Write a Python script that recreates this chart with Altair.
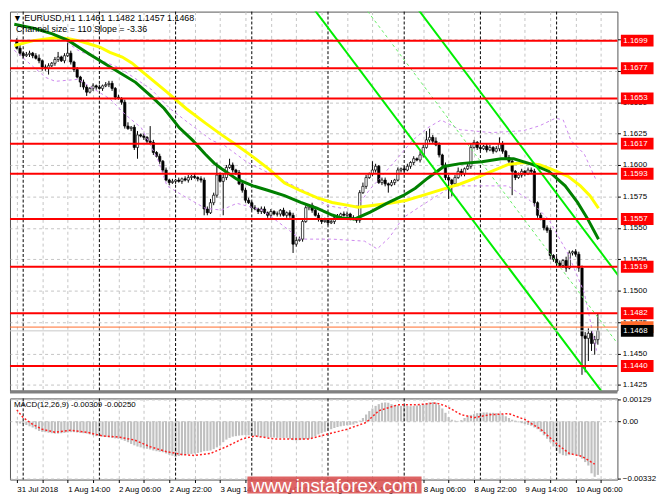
import altair as alt
import pandas as pd

FONT = "Liberation Sans"
BASE = 1.1400
PIP = 0.0001

# ---------------- candles (pips above 1.1400) ----------------
first_open = 299
closes = [
    293, 289, 287, 288, 289, 287, 285, 283, 278, 277,
    279, 281, 284, 286, 283, 287, 289, 282, 276, 270,
    266, 262, 258, 261, 263, 262, 261, 263, 264, 265,
    261, 254, 253, 250, 231, 229, 230, 214, 224, 223,
    222, 219, 218, 210, 207, 203, 196, 188, 186, 187,
    188, 187, 189, 188, 190, 191, 190, 189, 188, 165,
    162, 170, 176, 192, 187, 190, 198, 200, 196, 194,
    185, 180, 172, 170, 166, 165, 163, 165, 162, 160,
    163, 161, 161, 164, 160, 162, 160, 137, 140, 141,
    155, 166, 168, 164, 160, 157, 155, 156, 154, 155,
    158, 159, 161, 160, 161, 158, 157, 156, 178, 183,
    190, 193, 196, 199, 186, 188, 185, 184, 186, 188,
    196, 197, 196, 199, 202, 205, 204, 208, 214, 220,
    222, 219, 216, 208, 200, 190, 188, 185, 190, 195,
    193, 197, 199, 214, 218, 214, 213, 215, 212, 214,
    211, 213, 217, 211, 206, 203, 195, 190, 192, 195,
    193, 196, 195, 170, 160, 157, 150, 148, 128, 125,
    122, 120, 124, 118, 130, 131, 129, 118, 64, 62,
    66, 58, 61, 68]
wick_up = [
    2, 3, 1, 2, 2, 1, 2, 3, 1, 2,
    2, 1, 2, 4, 1, 2, 11, 2, 1, 2,
    1, 2, 2, 1, 2, 1, 2, 1, 2, 2,
    2, 1, 2, 1, 2, 3, 1, 2, 3, 1,
    2, 1, 12, 2, 1, 2, 1, 2, 1, 2,
    1, 2, 1, 2, 2, 1, 2, 1, 2, 2,
    2, 3, 2, 10, 2, 3, 2, 5, 2, 1,
    2, 1, 2, 2, 1, 2, 1, 2, 2, 1,
    2, 1, 2, 1, 2, 1, 2, 2, 3, 2,
    2, 2, 1, 2, 1, 2, 1, 2, 1, 2,
    1, 2, 1, 2, 2, 1, 2, 1, 2, 3,
    2, 1, 7, 2, 1, 2, 2, 1, 2, 1,
    2, 1, 2, 2, 1, 2, 1, 3, 2, 7,
    7, 2, 3, 2, 1, 2, 2, 1, 2, 3,
    2, 1, 2, 3, 2, 1, 2, 1, 2, 2,
    1, 2, 5, 2, 1, 2, 2, 1, 2, 2,
    1, 2, 2, 2, 1, 2, 1, 2, 2, 1,
    2, 2, 1, 3, 2, 1, 2, 2, 2, 3,
    4, 2, 3, 14]
wick_dn = [
    1, 2, 2, 1, 2, 2, 1, 2, 3, 2,
    5, 1, 2, 2, 1, 2, 1, 2, 2, 1,
    4, 2, 3, 1, 2, 2, 1, 2, 1, 2,
    2, 2, 1, 2, 2, 1, 2, 2, 9, 1,
    2, 2, 1, 2, 1, 2, 2, 1, 2, 1,
    2, 1, 2, 1, 2, 2, 1, 2, 2, 5,
    2, 1, 2, 2, 1, 27, 2, 1, 2, 2,
    1, 2, 2, 1, 2, 1, 2, 2, 1, 2,
    2, 1, 2, 2, 1, 2, 2, 7, 2, 1,
    2, 1, 2, 2, 1, 2, 2, 1, 2, 1,
    2, 1, 2, 1, 2, 2, 1, 2, 2, 1,
    2, 1, 2, 2, 1, 2, 2, 6, 1, 2,
    1, 2, 2, 1, 2, 2, 1, 2, 2, 1,
    2, 2, 1, 2, 2, 2, 15, 10, 2, 1,
    2, 2, 1, 2, 1, 2, 2, 1, 2, 1,
    2, 1, 2, 2, 1, 2, 19, 2, 1, 2,
    2, 1, 2, 3, 2, 1, 2, 2, 3, 2,
    2, 1, 2, 3, 1, 2, 2, 3, 31, 27,
    18, 6, 9, 4]

# ---------------- indicators ----------------
green_i = [-0.8, 5.2, 11.2, 16.3, 22.4, 29.3, 32.3, 37.4, 42.2, 46.4, 51.2, 55.4, 59.3, 62.3, 64.4,
           69.3, 74.4, 79.5, 84.3, 89.4, 94.5, 99.3, 102.3, 106.5, 111.3, 116.5, 121.6, 125.5,
           129.4, 134.5, 139.6, 146.5, 152.5, 156.5, 162.5, 167.6, 172.7, 176.6, 179.6, 183.2]
green_p = [312.1, 309.0, 304.4, 299.0, 289.0, 278.2, 273.6, 265.8, 255.0, 245.0, 229.6, 219.6, 208.8, 201.1, 197.2,
           188.7, 183.4, 179.5, 175.6, 170.2, 165.6, 160.2, 157.9, 157.1, 162.5, 169.5, 175.6, 181.5,
           189.5, 198.8, 201.1, 202.6, 205.0, 205.0, 200.3, 194.9, 183.4, 170.2, 157.9, 140.9]
yellow_i = [-0.8, 5.2, 12.1, 16.3, 19.3, 22.4, 26.3, 29.3, 33.2, 36.2, 41.3, 47.3, 53.3, 59.3, 64.4,
            69.3, 74.4, 79.5, 84.3, 89.4, 94.5, 99.3, 104.4, 107.4, 112.6, 117.4, 122.5, 127.6,
            134.5, 139.6, 144.4, 149.5, 154.6, 159.5, 164.6, 168.5, 173.6, 177.5, 180.5, 183.2]
yellow_p = [295.1, 299.0, 301.3, 300.5, 299.0, 296.7, 293.6, 289.7, 285.9, 281.3, 270.5, 258.1, 245.0, 233.5, 224.2,
            215.7, 206.5, 196.5, 185.7, 179.5, 174.1, 170.2, 167.9, 166.4, 167.9, 169.5, 171.8, 175.6,
            181.0, 184.9, 189.5, 194.9, 200.3, 201.9, 200.3, 196.5, 191.0, 183.4, 175.6, 165.6]
env_up_i = [0.1, 5.2, 12.1, 19.3, 28.4, 32.3, 42.2, 48.2, 53.3, 61.4, 65.3, 72.3, 79.5, 85.5, 92.4, 97.5,
            102.3, 107.4, 111.3, 114.4, 119.5, 124.6, 129.4, 133.6, 139.6, 149.5, 159.5, 164.6, 169.7,
            172.1, 174.5, 178.7, 182.6]
env_up_p = [310.6, 308.3, 304.4, 291.3, 281.3, 277.4, 260.5, 245.0, 235.0, 219.6, 215.7, 202.6, 193.4, 185.7, 177.2, 167.9,
            165.6, 167.9, 181.0, 189.5, 204.2, 219.6, 229.6, 235.8, 228.1, 225.8, 227.3, 231.2, 237.3,
            235.8, 219.6, 208.8, 187.2]
env_dn_i = [-0.8, 5.2, 9.1, 12.1, 19.3, 29.3, 34.4, 39.2, 44.3, 47.3, 52.4, 59.3, 64.4, 69.3, 77.4, 89.4,
            99.3, 109.5, 113.5, 117.4, 121.6, 127.6, 132.4, 137.5, 154.6, 161.6, 167.6, 173.6, 178.7, 182.6]
env_dn_p = [291.3, 278.2, 269.7, 266.6, 268.2, 252.7, 239.6, 229.6, 205.0, 183.4, 175.6, 165.6, 164.1, 169.5, 164.1, 141.0,
            141.0, 139.4, 133.2, 142.5, 157.9, 167.9, 175.6, 183.4, 183.4, 171.8, 156.4, 129.4, 98.5, 52.3]

# regression channel (Channel size = 110, Slope = -3.36)
chan_i = [88, 190]
chan_low = [1.17429, 1.14002]
chan_mid = [1.17979, 1.14552]
chan_high = [1.18529, 1.15102]

levels = [1.1699, 1.1677, 1.1653, 1.1617, 1.1593, 1.1557, 1.1519, 1.1482, 1.1440]
price_ticks = [1.1425, 1.1450, 1.1475, 1.1500, 1.1525, 1.1550, 1.1575, 1.1600,
               1.1625, 1.1650, 1.1675, 1.1700]
bid_price = 1.1468
ask_line = 1.1471

tick_idx = [0, 16, 32, 48, 64, 80, 96, 112, 128, 144, 160, 176]
tick_lbl = ["31 Jul 2018", "1 Aug 14:00", "2 Aug 06:00", "2 Aug 22:00", "3 Aug 14:00",
            "6 Aug 06:00", "6 Aug 22:00", "7 Aug 14:00", "8 Aug 06:00", "8 Aug 22:00",
            "9 Aug 14:00", "10 Aug 06:00"]
grid_idx = [0, 8, 16, 24, 32, 40, 48, 56, 64, 72, 80, 88, 96, 104, 112, 120, 128, 136,
            144, 152, 160, 168, 176, 184]
day_sep = [2, 26, 50, 74, 98, 122, 146, 170]

# MACD histogram (x 1e-5)
macd_hist = [
    -10, -12, -15, -20, -28, -35, -45, -55, -60, -62,
    -65, -68, -70, -70, -68, -66, -64, -62, -62, -64,
    -66, -68, -70, -75, -80, -85, -85, -88, -90, -92,
    -95, -98, -100, -105, -112, -120, -130, -138, -145, -150,
    -155, -158, -162, -168, -172, -175, -178, -185, -192, -198,
    -205, -200, -196, -192, -190, -188, -185, -182, -178, -172,
    -170, -168, -160, -150, -140, -120, -105, -95, -88, -85,
    -82, -80, -78, -80, -82, -85, -88, -88, -90, -92,
    -92, -93, -95, -95, -96, -95, -100, -108, -110, -108,
    -105, -102, -100, -95, -85, -75, -68, -60, -52, -45,
    -38, -32, -28, -25, -22, -20, -18, -10, 5, 20,
    40, 60, 75, 90, 100, 108, 110, 108, 100, 95,
    92, 90, 92, 90, 88, 90, 92, 95, 100, 105,
    110, 112, 108, 95, 75, 50, 25, 10, 5, 3,
    8, 20, 30, 38, 42, 48, 50, 52, 52, 50,
    50, 48, 45, 40, 30, 20, 10, 5, -5, -10,
    -15, -20, -25, -35, -45, -60, -80, -100, -120, -145,
    -170, -185, -195, -198, -195, -190, -192, -200, -215, -235,
    -255, -300, -320, -309]
signal_i = [0, 2, 5, 8, 12, 17, 22, 27, 32, 37, 42, 47, 52, 56, 61, 66, 71, 75, 81, 87, 92, 98,
            104, 110, 114, 120, 126, 132, 135, 140, 144, 149, 155, 160, 165, 170, 174, 178, 182]
signal_v = [67, 22, -17, -45, -62, -51, -62, -84, -90, -107, -146, -174, -191, -197, -185, -146,
            -101, -84, -101, -101, -101, -73, -45, -6, 62, 96, 96, 107, 90, 39, 22, 39, 45, 11,
            -45, -129, -185, -202, -247]
macd_ticks = [0.00129, 0.0, -0.00332]

# ---------------- frames ----------------
rows = []
prev = first_open
for i, c in enumerate(closes):
    o = prev
    rows.append({
        "i": i,
        "open": BASE + o * PIP,
        "close": BASE + c * PIP,
        "high": BASE + (max(o, c) + wick_up[i]) * PIP,
        "low": BASE + (min(o, c) - wick_dn[i]) * PIP,
        "dir": "up" if c >= o else "down",
    })
    prev = c
candles = pd.DataFrame(rows)

W, HP, HM = 614, 383, 82
xs = alt.Scale(domain=[-0.6, 187.6], nice=False, zero=False)
ys = alt.Scale(domain=[1.14205, 1.17221], nice=False, zero=False)
ms = alt.Scale(domain=[-0.00336, 0.00133], nice=False, zero=False)
GRID = "#c4c4c4"

price_axis = alt.Axis(orient="right", values=price_ticks, format=".4f", grid=True, gridDash=[3, 3],
                      gridColor=GRID, tickColor="black", tickSize=3, labelFontSize=8, labelFont=FONT,
                      labelColor="black", domain=False, title=None, labelPadding=2)
xgrid_axis = alt.Axis(values=grid_idx, labels=False, ticks=False, domain=False, grid=True,
                      gridDash=[3, 3], gridColor=GRID, title=None)

expr = "''"
for idx, lbl in reversed(list(zip(tick_idx, tick_lbl))):
    expr = f"datum.value == {idx} ? '{lbl}' : ({expr})"

time_axis = alt.Axis(values=grid_idx, labelExpr=expr, labelAlign="left", labelFontSize=8, labelFont=FONT,
                     labelColor="black", grid=True, gridDash=[3, 3], gridColor=GRID, tickSize=3,
                     tickColor="black", domain=False, title=None, labelOverlap=False, labelPadding=3,
                     labelFlush=False, labelBound=False)
macd_axis = alt.Axis(orient="right", values=macd_ticks,
                     labelExpr="datum.value == 0 ? '0.00' : format(datum.value, '.5f')",
                     grid=True, gridDash=[3, 3], gridColor=GRID, tickSize=3, tickColor="black",
                     labelFontSize=8, labelFont=FONT, labelColor="black", domain=False, title=None,
                     labelPadding=2)

XP = alt.X("i:Q", scale=xs, axis=xgrid_axis)
XM = alt.X("i:Q", scale=xs, axis=time_axis)


def YP(field):
    return alt.Y(field, scale=ys, axis=price_axis)


def YM(field):
    return alt.Y(field, scale=ms, axis=macd_axis)


def pline(ii, pp, color, width, dash=None, pips=True):
    d = pd.DataFrame({"i": ii, "p": [BASE + v * PIP for v in pp] if pips else pp})
    kw = dict(color=color, strokeWidth=width, clip=True)
    if dash:
        kw["strokeDash"] = dash
    return alt.Chart(d).mark_line(**kw).encode(x=XP, y=YP("p:Q"))


wicks = alt.Chart(candles).mark_rule(color="black", strokeWidth=1, clip=True).encode(
    x=XP, y=YP("low:Q"), y2="high:Q")
bodies = alt.Chart(candles).mark_bar(size=2.3, stroke="black", strokeWidth=0.7, clip=True).encode(
    x=XP, y=YP("open:Q"), y2="close:Q",
    fill=alt.Fill("dir:N", scale=alt.Scale(domain=["up", "down"], range=["white", "black"]), legend=None))

seps_df = pd.DataFrame({"i": day_sep})
seps_p = alt.Chart(seps_df).mark_rule(color="black", strokeDash=[3, 2], strokeWidth=1).encode(x=XP)
seps_m = alt.Chart(seps_df).mark_rule(color="black", strokeDash=[3, 2], strokeWidth=1).encode(x=XM)

lev_df = pd.DataFrame({"p": levels, "lbl": [f"{v:.4f}" for v in levels]})
lev_rules = alt.Chart(lev_df).mark_rule(color="#ff0000", strokeWidth=2).encode(y=YP("p:Q"))
lev_box = alt.Chart(lev_df).mark_tick(orient="horizontal", size=33, thickness=12, color="#ff0000",
                                      opacity=1, clip=False).encode(x=alt.value(W + 20), y=YP("p:Q"))
lev_txt = alt.Chart(lev_df).mark_text(align="left", baseline="middle", font=FONT, fontSize=8,
                                      color="white", clip=False).encode(
    x=alt.value(W + 6), y=YP("p:Q"), text="lbl:N")

ask_df = pd.DataFrame({"p": [ask_line], "lbl": [f"{ask_line:.4f}"]})
bid_df = pd.DataFrame({"p": [bid_price], "lbl": [f"{bid_price:.4f}"]})
ask_rule = alt.Chart(ask_df).mark_rule(color="#ff6a2a", strokeWidth=1).encode(y=YP("p:Q"))
bid_rule = alt.Chart(bid_df).mark_rule(color="#c8c8c8", strokeWidth=1).encode(y=YP("p:Q"))
ask_box = alt.Chart(ask_df).mark_tick(orient="horizontal", size=33, thickness=12, color="#ff6a2a",
                                      opacity=1, clip=False).encode(x=alt.value(W + 20), y=YP("p:Q"))
bid_box = alt.Chart(bid_df).mark_tick(orient="horizontal", size=33, thickness=12, color="black",
                                      opacity=1, clip=False).encode(x=alt.value(W + 20), y=YP("p:Q"))
bid_txt = alt.Chart(bid_df).mark_text(align="left", baseline="middle", font=FONT, fontSize=8,
                                      color="white", clip=False).encode(
    x=alt.value(W + 6), y=YP("p:Q"), text="lbl:N")

hdr_df = pd.DataFrame({"t": ["\u25bc EURUSD,H1  1.1461 1.1482 1.1457 1.1468"]})
hdr = alt.Chart(hdr_df).mark_text(align="left", baseline="middle", font=FONT, fontSize=9,
                                  color="black").encode(x=alt.value(3), y=alt.value(6), text="t:N")
ch_df = pd.DataFrame({"t": ["Channel size = 110 Slope = -3.36"]})
chtxt = alt.Chart(ch_df).mark_text(align="left", baseline="middle", font=FONT, fontSize=9,
                                   color="black").encode(x=alt.value(6), y=alt.value(18), text="t:N")

# thick gray divider between the price window and the MACD window
div_df = pd.DataFrame({"t": ["divider"]})
divider = alt.Chart(div_df).mark_rule(color="#808080", strokeWidth=3, clip=False).encode(
    x=alt.value(0), x2=alt.value(W), y=alt.value(HP + 1.5))

price = alt.layer(
    wicks, seps_p, bodies,
    pline(env_up_i, env_up_p, "#cc88ee", 1, [3, 3]),
    pline(env_dn_i, env_dn_p, "#cc88ee", 1, [3, 3]),
    pline(yellow_i, yellow_p, "#ffff00", 3),
    pline(green_i, green_p, "#008000", 3),
    pline(chan_i, chan_low, "#00ee00", 2, pips=False),
    pline(chan_i, chan_high, "#00ee00", 2, pips=False),
    pline(chan_i, chan_mid, "#66ee66", 1, [3, 3], pips=False),
    lev_rules, ask_rule, bid_rule, lev_box, lev_txt, ask_box, bid_box, bid_txt, hdr, chtxt, divider,
).properties(width=W, height=HP)

# ---------------- MACD ----------------
macd_df = pd.DataFrame({"i": list(range(len(macd_hist))),
                        "v": [v * 1e-5 for v in macd_hist], "z": 0.0})
sig_df = pd.DataFrame({"i": signal_i, "v": [v * 1e-5 for v in signal_v]})

hist = alt.Chart(macd_df).mark_bar(size=2.2, color="#c0c0c0").encode(x=XM, y=YM("v:Q"), y2="z:Q")
sig = alt.Chart(sig_df).mark_line(color="#ff2020", strokeDash=[2, 2], strokeWidth=1.5).encode(
    x=XM, y=YM("v:Q"))
mhdr_df = pd.DataFrame({"t": ["MACD(12,26,9) -0.00309 -0.00250"]})
mhdr = alt.Chart(mhdr_df).mark_text(align="left", baseline="top", font=FONT, fontSize=8,
                                    color="black").encode(x=alt.value(4), y=alt.value(3), text="t:N")

wm_df = pd.DataFrame({"t": ["www.instaforex.com"]})
wm_rect = alt.Chart(wm_df).mark_rect(color="#d95050", opacity=0.88, clip=False).encode(
    x=alt.value(240), x2=alt.value(416), y=alt.value(79), y2=alt.value(96))
wm_txt = alt.Chart(wm_df).mark_text(align="center", baseline="middle", font=FONT, fontSize=19,
                                    color="white", clip=False).encode(
    x=alt.value(328), y=alt.value(89), text="t:N")

macd = alt.layer(hist, seps_m, sig, mhdr, wm_rect, wm_txt).properties(width=W, height=HM)

chart = alt.vconcat(price, macd, spacing=0).properties(
    padding={"left": 0, "top": 0, "right": 0, "bottom": 0}).configure_view(
    stroke="#555555", strokeWidth=1)

chart.save("out.html", embed_options={"renderer": "svg", "actions": False})
